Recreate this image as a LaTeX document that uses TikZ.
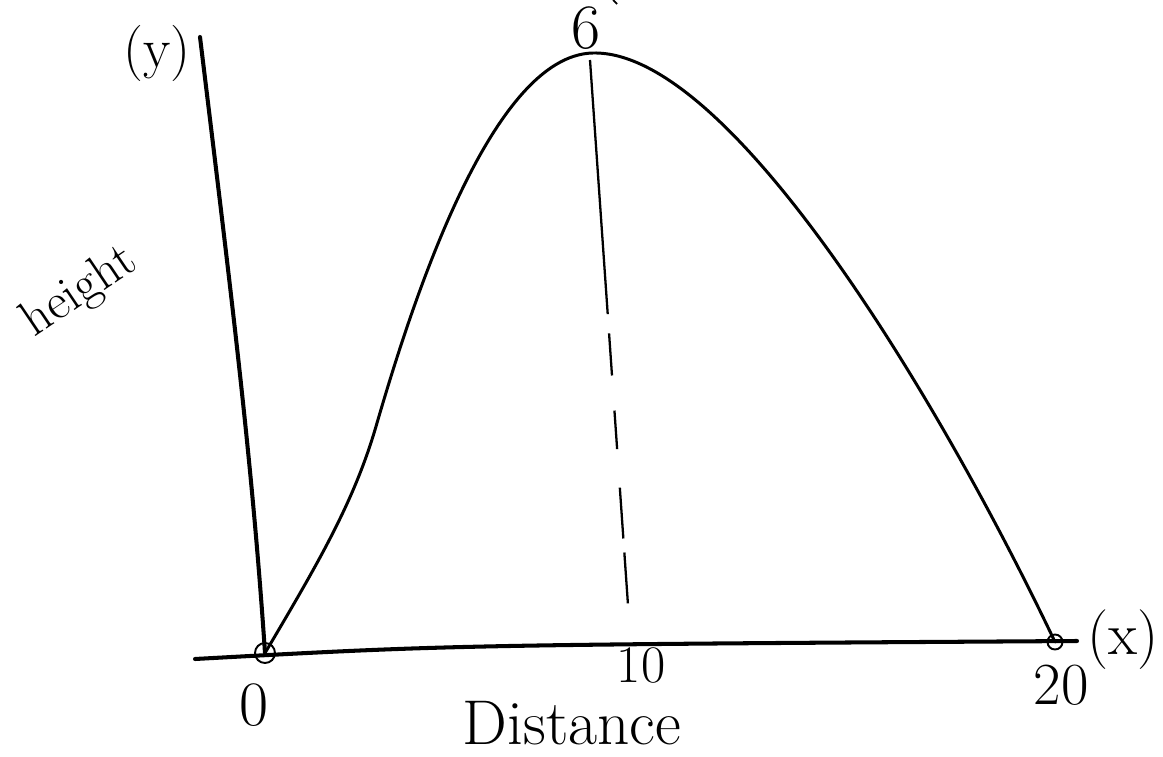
\documentclass[tikz,border=0pt]{standalone}
\usepackage{tikz}
\usetikzlibrary{calc}
\begin{document}
\begin{tikzpicture}[x=0.02cm,y=-0.02cm,
  axis/.style={line width=2.3pt,line cap=round},
  trail/.style={line width=1.7pt,line cap=round,line join=round},
  guide/.style={line width=1.3pt,dash pattern=on 145pt off 11pt on 24pt off 20pt on 22pt off 22pt on 29pt off 8pt on 29pt},
  ring/.style={circle,draw,line width=1.1pt,inner sep=0pt,minimum size=0.4cm},
  hand/.style={inner sep=0pt,font=\fontsize{#1}{#1}\selectfont},
  hand/.default=32]
  \useasboundingbox (0,0) rectangle (1163,757);
  % axes
  \coordinate (ytop) at (200,37);
  \coordinate (xl) at (195,659);
  \coordinate (xr) at (1077,641);
  \node[ring] (O) at (265,653) {};
  \node[ring,minimum size=0.3cm] (E) at (1055,642) {};
  \draw[axis] (ytop) .. controls (232,300) and (252,460) .. (O.center);
  \draw[axis] (xl) .. controls (450,645) .. (xr);
  % the path
  \coordinate (K) at (377,423);
  \coordinate (P) at (593,53);
  \draw[trail] (O.center) .. controls (320,560) and (355,500) .. (K)
    .. controls (410,310) and (490,55) .. (P)
    .. controls (730,50) and (940,400) .. (E.center);
  % line under the top
  \coordinate (top) at (590,60);
  \coordinate (foot) at (628,605);
  \draw[guide] (top) -- (foot);
  % labels
  \node[hand=32] (ylab) at (157,53) {(y)};
  \node[hand=36] (six) at (586,28) {6};
  \draw[line width=1pt] (613,0) -- (617,4);
  \node[hand=29,rotate=34] (hgt) at (80,292) {height};
  \node[hand=36] (zero) at (254,705) {0};
  \node[hand=30] (ten) at (641,665) {10};
  \node[hand=34] (twenty) at (1061,685) {20};
  \node[hand=34] (xlab) at (1123,640) {(x)};
  \node[hand=36] (dist) at (572,723) {Distance};
\end{tikzpicture}
\end{document}
